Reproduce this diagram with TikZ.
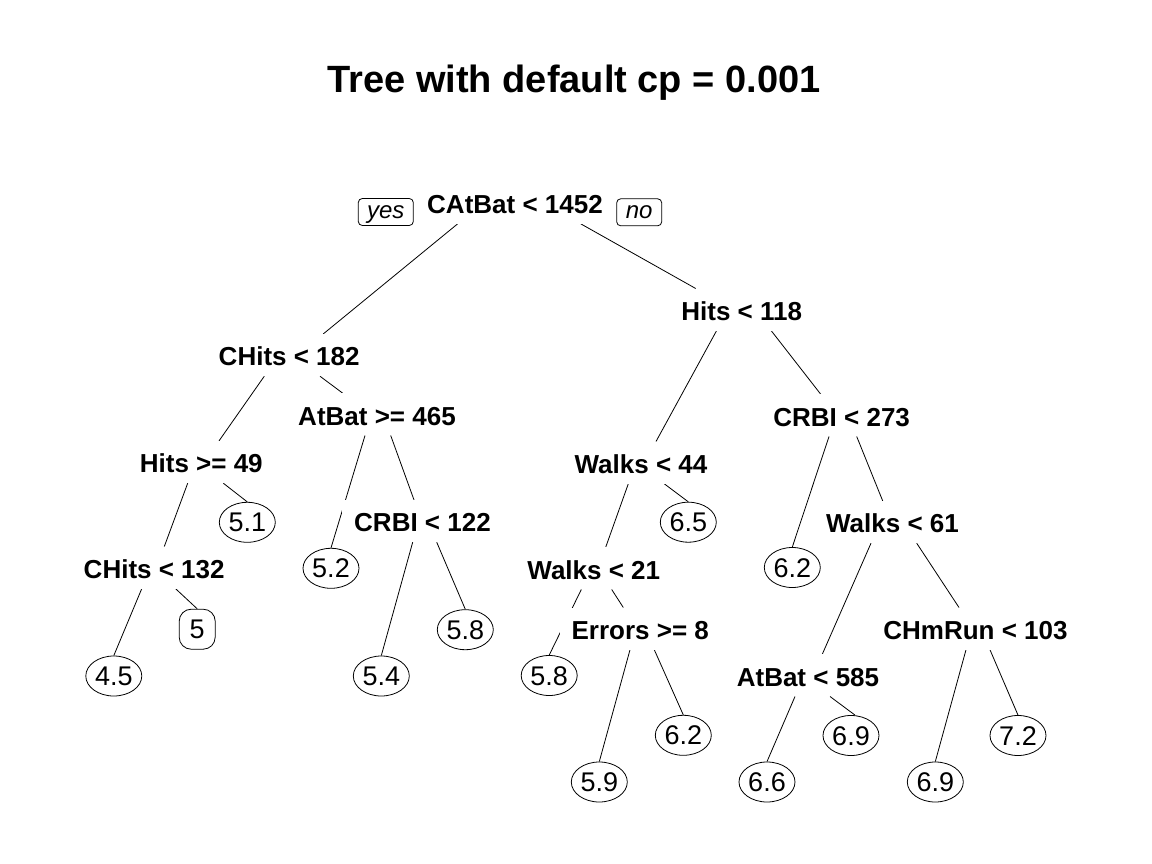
\documentclass[tikz,border=0pt]{standalone}
\usepackage{fontspec}
\setmainfont{Liberation Sans}
\usetikzlibrary{shapes.geometric}
\pgfdeclarelayer{background}
\pgfsetlayers{background,main}
\begin{document}
\begin{tikzpicture}[x=1pt,y=-1pt,
  split/.style={font=\fontsize{26}{30}\selectfont\bfseries, fill=white, text height=21.3pt, text depth=0pt, inner xsep=12pt, inner ysep=10.3pt, anchor=base},
  leaf/.style={ellipse, draw, line width=0.8pt, fill=white, font=\fontsize{27}{30}\selectfont, text height=19.3pt, text depth=0pt, inner sep=0pt, minimum width=56pt, minimum height=40pt},
  sqleaf/.style={leaf, rectangle, rounded corners=12pt, minimum width=36pt},
  yn/.style={draw, line width=0.8pt, rounded corners=4pt, font=\fontsize{24}{28}\selectfont\itshape, text height=13.3pt, text depth=0pt, inner sep=0pt, minimum height=27pt},
  branch/.style={line width=0.8pt}]
\useasboundingbox (0,0) rectangle (1152,864);
% title
\node[font=\fontsize{38}{44}\selectfont\bfseries, anchor=base] (title) at (574,92.7) {Tree with default cp = 0.001};
% split nodes (positioned at baseline)
\node[split] (root) at (515,213.3) {CAtBat < 1452};
\node[yn, minimum width=55pt] (yes) at (385.8,212) {yes};
\node[yn, minimum width=45pt] (no) at (639.2,212.3) {no};
\node[split] (hits118) at (741.7,320.3) {Hits < 118};
\node[split] (chits182) at (289.2,365.7) {CHits < 182};
\node[split] (atbat465) at (377,425) {AtBat >= 465};
\node[split] (crbi273) at (841.7,426) {CRBI < 273};
\node[split] (hits49) at (201.3,472.7) {Hits >= 49};
\node[split] (walks44) at (641,473.3) {Walks < 44};
\node[split] (crbi122) at (422.5,531.7) {CRBI < 122};
\node[split] (walks61) at (892.5,532.7) {Walks < 61};
\node[split] (chits132) at (154.2,578.3) {CHits < 132};
\node[split] (walks21) at (593.8,579) {Walks < 21};
\node[split] (errors8) at (640.3,639.3) {Errors >= 8};
\node[split] (chmrun) at (975.5,639.3) {CHmRun < 103};
\node[split] (atbat585) at (808,686) {AtBat < 585};
% leaves
\node[leaf] (l51) at (247.3,522.3) {5.1};
\node[leaf] (l65) at (688.3,522.2) {6.5};
\node[leaf] (l52) at (331,568.3) {5.2};
\node[leaf] (l62a) at (792.3,567.5) {6.2};
\node[sqleaf] (l5) at (197.2,629.2) {5};
\node[leaf] (l58a) at (465.3,629.7) {5.8};
\node[leaf] (l45) at (113.8,676) {4.5};
\node[leaf] (l54) at (381.3,676) {5.4};
\node[leaf] (l58b) at (549.2,675.5) {5.8};
\node[leaf] (l62b) at (683.3,735.3) {6.2};
\node[leaf] (l69a) at (851,735.5) {6.9};
\node[leaf] (l72) at (1018,735.5) {7.2};
\node[leaf] (l59) at (599.3,782) {5.9};
\node[leaf] (l66) at (767,782) {6.6};
\node[leaf] (l69b) at (935.3,782) {6.9};
% branches
\begin{pgfonlayer}{background}
\draw[branch] ([xshift=-57.3pt]root.south) -- ([xshift=34.1pt]chits182.north);
\draw[branch] ([xshift=65.7pt]root.south) -- ([xshift=-46pt]hits118.north);
\draw[branch] ([xshift=-24.9pt]chits182.south) -- ([xshift=17.7pt]hits49.north);
\draw[branch] ([xshift=30.8pt]chits182.south) -- ([xshift=-34.3pt]atbat465.north);
\draw[branch] ([xshift=-25.2pt]hits118.south) -- ([xshift=15pt]walks44.north);
\draw[branch] ([xshift=29.6pt]hits118.south) -- ([xshift=-21pt]crbi273.north);
\draw[branch] ([xshift=-13.6pt]hits49.south) -- ([xshift=10.1pt]chits132.north);
\draw[branch] ([xshift=22pt]hits49.south) -- (l51.north);
\draw[branch] ([xshift=-12pt]atbat465.south) -- (l52.north);
\draw[branch] ([xshift=13.7pt]atbat465.south) -- ([xshift=-8.5pt]crbi122.north);
\draw[branch] ([xshift=-12.7pt]crbi273.south) -- (l62a.north);
\draw[branch] ([xshift=15pt]crbi273.south) -- ([xshift=-9.8pt]walks61.north);
\draw[branch] ([xshift=-12.7pt]walks44.south) -- ([xshift=11.9pt]walks21.north);
\draw[branch] ([xshift=23.3pt]walks44.south) -- (l65.north);
\draw[branch] ([xshift=-12.5pt]chits132.south) -- (l45.north);
\draw[branch] ([xshift=21.5pt]chits132.south) -- (l5.north);
\draw[branch] ([xshift=-9.8pt]crbi122.south) -- (l54.north);
\draw[branch] ([xshift=14.2pt]crbi122.south) -- (l58a.north);
\draw[branch] ([xshift=-21.5pt]walks61.south) -- ([xshift=14.3pt]atbat585.north);
\draw[branch] ([xshift=24.2pt]walks61.south) -- ([xshift=-16.5pt]chmrun.north);
\draw[branch] ([xshift=-12.5pt]walks21.south) -- (l58b.north);
\draw[branch] ([xshift=17.9pt]walks21.south) -- ([xshift=-17pt]errors8.north);
\draw[branch] ([xshift=-10.3pt]errors8.south) -- (l59.north);
\draw[branch] ([xshift=14pt]errors8.south) -- (l62b.north);
\draw[branch] ([xshift=-13pt]atbat585.south) -- (l66.north);
\draw[branch] ([xshift=22pt]atbat585.south) -- ([xshift=4pt]l69a.north);
\draw[branch] ([xshift=-9.5pt]chmrun.south) -- (l69b.north);
\draw[branch] ([xshift=14.5pt]chmrun.south) -- (l72.north);
\end{pgfonlayer}
\end{tikzpicture}
\end{document}
